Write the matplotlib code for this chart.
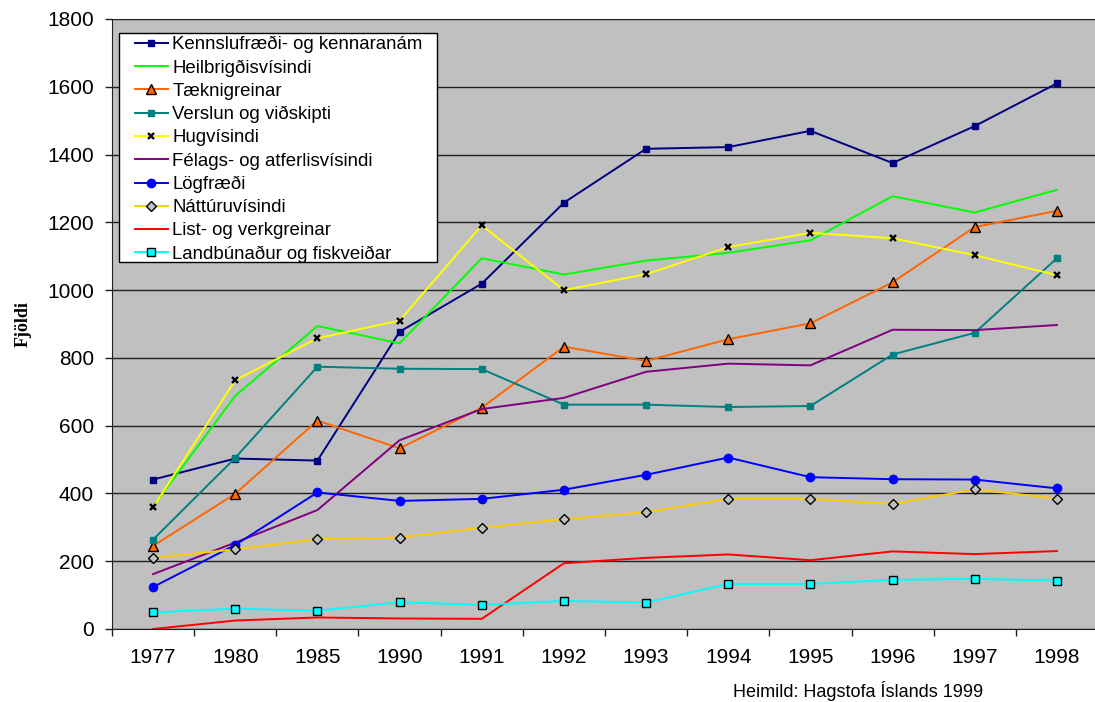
import numpy as np
import matplotlib.pyplot as plt
from matplotlib.patches import Rectangle

plt.rcParams['font.family'] = ['Liberation Sans', 'DejaVu Sans']

ar = ['1977', '1980', '1985', '1990', '1991', '1992', '1993',
      '1994', '1995', '1996', '1997', '1998']

kennslu = [441, 503, 497, 877, 1019, 1258, 1417, 1422, 1470, 1375, 1484, 1610]
heilbr = [362, 688, 894, 843, 1094, 1046, 1087, 1110, 1147, 1277, 1229, 1296]
taekni = [245, 399, 615, 533, 653, 833, 791, 855, 902, 1023, 1186, 1234]
verslun = [264, 505, 774, 768, 767, 662, 662, 655, 658, 810, 874, 1094]
hugvis = [359, 734, 858, 910, 1191, 1000, 1047, 1127, 1169, 1153, 1103, 1044]
felags = [162, 255, 351, 557, 649, 682, 759, 783, 778, 883, 882, 897]
logfr = [124, 248, 403, 378, 384, 411, 455, 506, 448, 442, 441, 415]
natturu = [210, 235, 265, 270, 299, 324, 345, 384, 384, 369, 412, 385]
list_verk = [0, 25, 34, 31, 30, 194, 210, 220, 203, 229, 221, 230]
landbun = [49, 60, 54, 79, 71, 83, 78, 133, 133, 145, 148, 143]

x = np.arange(len(ar))

W, H = 1095, 702
fig = plt.figure(figsize=(W/100, H/100), dpi=100)
ax = fig.add_axes([112/W, 73/H, 986/W, 610/H])
ax.set_facecolor('#C0C0C0')

lw = 1.4
ax.plot(x, kennslu, color='#000080', lw=lw, marker='s', ms=5, mfc='#000080', mec='#000080',
        label='Kennslufræði- og kennaranám')
ax.plot(x, heilbr, color='#00FF00', lw=lw, label='Heilbrigðisvísindi')
ax.plot(x, taekni, color='#FF6600', lw=lw, marker='^', ms=7, mfc='#FF6600', mec='black', mew=1.0,
        label='Tæknigreinar')
ax.plot(x, verslun, color='#008080', lw=lw, marker='s', ms=5, mfc='#008080', mec='#008080',
        label='Verslun og viðskipti')
ax.plot(x, hugvis, color='#FFFF00', lw=lw, marker='x', ms=5, mec='black', mew=1.7,
        label='Hugvísindi')
ax.plot(x, felags, color='#800080', lw=lw, label='Félags- og atferlisvísindi')
ax.plot(x, logfr, color='#0000FF', lw=lw, marker='o', ms=6, mfc='#0000FF', mec='#0000FF',
        label='Lögfræði')
ax.plot(x, natturu, color='#FFCC00', lw=lw, marker='D', ms=5.5, mfc='#C0C0C0', mec='black', mew=1.0,
        label='Náttúruvísindi')
ax.plot(x, list_verk, color='#FF0000', lw=lw, label='List- og verkgreinar')
ax.plot(x, landbun, color='#00FFFF', lw=lw, marker='s', ms=6, mfc='#00FFFF', mec='black', mew=1.0,
        label='Landbúnaður og fiskveiðar')

ax.set_xlim(-0.5, len(ar) - 0.5)
ax.set_ylim(0, 1800)
ax.set_yticks(np.arange(0, 1801, 200))
ax.yaxis.grid(True, color='#202020', lw=1.0)
ax.set_axisbelow(True)

# tick marks between categories, labels at centres
ax.set_xticks(np.arange(-0.5, len(ar) - 0.4, 1))
ax.set_xticklabels([])
ax.set_xticks(x, minor=True)
ax.set_xticklabels(ar, minor=True)
ax.tick_params(axis='x', which='major', length=5, width=1, color='#202020', direction='out')
ax.tick_params(axis='x', which='minor', length=0, pad=14, labelsize=15)
ax.tick_params(axis='y', length=5, width=1, color='#202020', pad=8, labelsize=15)

for s in ['top', 'right']:
    ax.spines[s].set_visible(False)
ax.spines['left'].set_color('#202020')
ax.spines['bottom'].set_color('#202020')

ax.set_ylabel('Fjöldi', family=['Liberation Serif', 'DejaVu Serif'], fontweight='bold',
              fontsize=13)
ax.yaxis.set_label_coords((32 - 112) / 986, 0.5)

# legend box (white, black border)
fig.patches.append(Rectangle((119/W, 1 - 262/H), (437 - 119)/W, (262 - 33)/H,
                             transform=fig.transFigure, facecolor='white',
                             edgecolor='black', lw=1.0, zorder=4))
leg = ax.legend(loc='upper left', bbox_to_anchor=(135/W, 1 - 36/H),
                bbox_transform=fig.transFigure, fontsize=13.4, frameon=False,
                borderpad=0, labelspacing=0.33, handlelength=1.75,
                handletextpad=0.25, borderaxespad=0)
leg.set_zorder(5)
leg.remove()
fig.legends.append(leg)
leg.figure = fig

fig.text(733/W, 1 - 691/H, 'Heimild: Hagstofa Íslands 1999', fontsize=13, va='center')

fig.savefig('out.png', dpi=100)
